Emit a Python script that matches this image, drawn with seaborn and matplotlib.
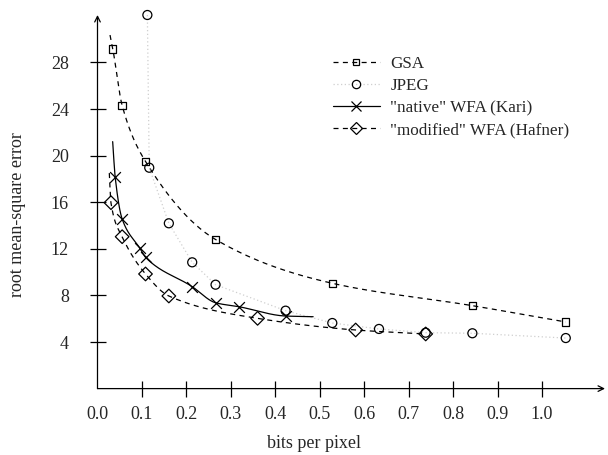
import numpy as np
import pandas as pd
import matplotlib
matplotlib.use("Agg")
import matplotlib.pyplot as plt
from matplotlib.lines import Line2D
import seaborn as sns

# ---------------- data ----------------
gsa_x = [0.03, 0.05, 0.10, 0.25, 0.50, 0.80, 1.00]
gsa_y = [29.15, 24.3, 19.5, 12.8, 9.04, 7.12, 5.72]

jpeg_x = [0.104, 0.108, 0.15, 0.20, 0.25, 0.40, 0.50, 0.60, 0.70, 0.80, 1.00]
jpeg_y = [32.07, 18.96, 14.19, 10.84, 8.92, 6.69, 5.63, 5.12, 4.80, 4.75, 4.34]

native_x = [0.035, 0.05, 0.088, 0.10, 0.20, 0.25, 0.30, 0.40]
native_y = [18.19, 14.56, 12.04, 11.27, 8.75, 7.37, 7.03, 6.23]

mod_x = [0.026, 0.05, 0.10, 0.15, 0.34, 0.55, 0.70]
mod_y = [15.96, 13.04, 9.84, 7.95, 6.03, 5.03, 4.69]

# ends of the fitted curves beyond the measured points
gsa_curve_start = (0.024, 30.35)
native_curve_start = (0.0297, 21.2)
native_curve_end = (0.459, 6.17)
mod_curve_start = (0.0225, 18.5)

x_tick_labels = ["0.0", "0.1", "0.2", "0.3", "0.4", "0.5", "0.6", "0.7", "0.8", "0.9", "1.0"]
y_ticks = [4, 8, 12, 16, 20, 24, 28]
labels = ["GSA", "JPEG", "\"native\" WFA (Kari)", "\"modified\" WFA (Hafner)"]

# ---------------- style ----------------
sns.set_theme(style="white")
plt.rcParams["font.family"] = ["Liberation Serif", "DejaVu Serif"]
FS = 13

W, H = 608, 455
fig = plt.figure(figsize=(W / 100, H / 100), dpi=100)
left_px, right_px, bottom_px, top_px = 97.5, 605, 388.6, 15
ax = fig.add_axes([left_px / W, 1 - bottom_px / H,
                   (right_px - left_px) / W, (bottom_px - top_px) / H])

x0 = -0.0028
x1 = 1.084
ax.set_xlim(x0, x1)
ax.set_ylim(0, 32.07)

lw = 0.9


def pchip_path(xs, ys, n=60):
    """Smooth monotone cubic path through the given points (for drawing only)."""
    x = np.asarray(xs, float)
    y = np.asarray(ys, float)
    h = np.diff(x)
    dlt = np.diff(y) / h
    m = np.zeros_like(x)
    for k in range(1, len(x) - 1):
        if dlt[k - 1] * dlt[k] > 0:
            w1 = 2 * h[k] + h[k - 1]
            w2 = h[k] + 2 * h[k - 1]
            m[k] = (w1 + w2) / (w1 / dlt[k - 1] + w2 / dlt[k])
    m[0] = dlt[0]
    m[-1] = dlt[-1]
    px, py = [], []
    for k in range(len(x) - 1):
        t = np.linspace(0, 1, n, endpoint=(k == len(x) - 2))
        h00 = 2 * t**3 - 3 * t**2 + 1
        h10 = t**3 - 2 * t**2 + t
        h01 = -2 * t**3 + 3 * t**2
        h11 = t**3 - t**2
        px.append(x[k] + t * h[k])
        py.append(h00 * y[k] + h10 * h[k] * m[k] + h01 * y[k + 1] + h11 * h[k] * m[k + 1])
    return pd.DataFrame({"x": np.concatenate(px), "y": np.concatenate(py)})


def curve(xs, ys, start=None, end=None, smooth=True):
    cx, cy = list(xs), list(ys)
    if start is not None:
        cx.insert(0, start[0]); cy.insert(0, start[1])
    if end is not None:
        cx.append(end[0]); cy.append(end[1])
    if smooth:
        return pchip_path(cx, cy)
    return pd.DataFrame({"x": cx, "y": cy})


dash = (0, (4, 3.5))
# lines
d = curve(gsa_x, gsa_y, gsa_curve_start)
sns.lineplot(data=d, x="x", y="y", sort=False, estimator=None, ax=ax,
             color="black", lw=lw, linestyle=dash)
d = curve(jpeg_x, jpeg_y, smooth=False)
sns.lineplot(data=d, x="x", y="y", sort=False, estimator=None, ax=ax,
             color="#cfcfcf", lw=lw, linestyle=(0, (1, 2)))
d = curve(native_x, native_y, native_curve_start, native_curve_end)
sns.lineplot(data=d, x="x", y="y", sort=False, estimator=None, ax=ax,
             color="black", lw=lw)
d = curve(mod_x, mod_y, mod_curve_start)
sns.lineplot(data=d, x="x", y="y", sort=False, estimator=None, ax=ax,
             color="black", lw=lw, linestyle=dash)

# markers
mk = dict(ax=ax, facecolor="none", edgecolor="black", linewidth=0.9, zorder=5)
sns.scatterplot(x=gsa_x, y=gsa_y, marker="s", s=28, **mk)
sns.scatterplot(x=jpeg_x, y=jpeg_y, marker="o", s=42, **mk)
sns.scatterplot(x=native_x, y=native_y, marker="x", s=60, color="black", ax=ax,
                linewidth=0.9, zorder=5)
sns.scatterplot(x=mod_x, y=mod_y, marker="D", s=48, **mk)
for c in ax.collections:
    c.set_clip_on(False)

# axes with arrows
for s in ax.spines.values():
    s.set_visible(False)
ax.annotate("", xy=(1, 0), xytext=(0, 0), xycoords="axes fraction",
            arrowprops=dict(arrowstyle="->", lw=0.9, color="black",
                            shrinkA=0, shrinkB=0, mutation_scale=10))
ax.annotate("", xy=(0, 1), xytext=(0, 0), xycoords="axes fraction",
            arrowprops=dict(arrowstyle="->", lw=0.9, color="black",
                            shrinkA=0, shrinkB=0, mutation_scale=10))

# ticks (the printed tick scale is slightly compressed w.r.t. the data scale)
tick_step = 44.45 / 467
xt = [x0 + i * tick_step for i in range(len(x_tick_labels))]
ax.set_xticks(xt)
ax.set_xticklabels(x_tick_labels, fontsize=FS)
ax.set_yticks(y_ticks)
ax.set_yticklabels([str(v) for v in y_ticks], fontsize=FS)
ax.tick_params(axis="both", direction="inout", length=11, width=0.9, color="black",
               bottom=True, left=True)
ax.tick_params(axis="x", pad=7)
ax.tick_params(axis="y", pad=15)
ax.xaxis.get_major_ticks()[0].tick1line.set_visible(False)
ax.set_xlabel("")
ax.set_ylabel("")

fig.text(314 / W, 1 - 444 / H, "bits per pixel", fontsize=FS, ha="center", va="center")
fig.text(18 / W, 1 - 215 / H, "root mean-square error", fontsize=FS, ha="center",
         va="center", rotation=90)

# legend
handles = [
    Line2D([], [], color="black", lw=lw, linestyle=dash, marker="s",
           markersize=5, markerfacecolor="none", markeredgecolor="black", markeredgewidth=0.9),
    Line2D([], [], color="#cfcfcf", lw=lw, linestyle=(0, (1, 2)), marker="o",
           markersize=6, markerfacecolor="none", markeredgecolor="black", markeredgewidth=0.9),
    Line2D([], [], color="black", lw=lw, marker="x", markersize=7.5,
           markeredgecolor="black", markeredgewidth=0.9),
    Line2D([], [], color="black", lw=lw, linestyle=dash, marker="D",
           markersize=6.5, markerfacecolor="none", markeredgecolor="black", markeredgewidth=0.9),
]
LFS = 12.3
fig.legend(handles, labels, loc="upper left", bbox_to_anchor=(333 / W, 1 - 56 / H),
           frameon=False, fontsize=LFS, handlelength=2.75, handletextpad=0.6,
           labelspacing=0.36, borderpad=0, borderaxespad=0)

fig.savefig("out.png", dpi=100)
